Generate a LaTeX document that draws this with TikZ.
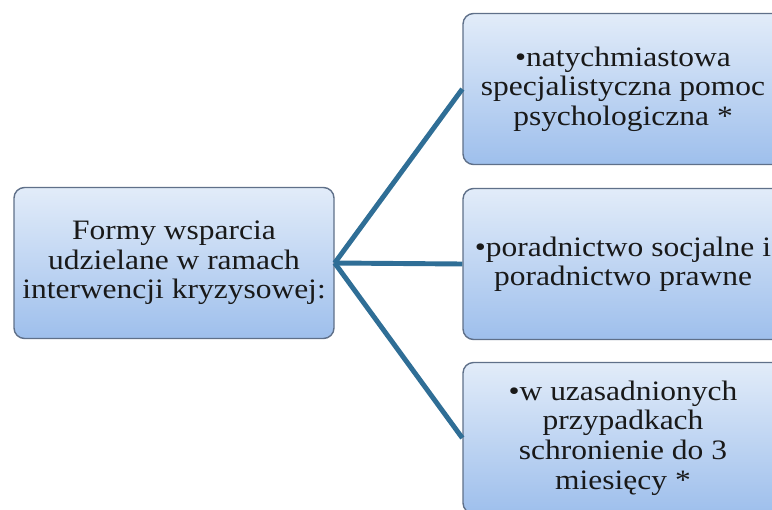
\documentclass[tikz,border=0pt]{standalone}
\usepackage{fontspec}
\setmainfont{Liberation Serif}[FakeStretch=1.12]
\usetikzlibrary{positioning}

\definecolor{linkblue}{HTML}{2F6E96}
\definecolor{boxtop}{HTML}{E2ECF9}
\definecolor{boxbottom}{HTML}{9EBFEC}
\definecolor{boxline}{HTML}{5F7089}

\begin{document}
\begin{tikzpicture}[
		every edge/.style = {draw=linkblue, line width=2.8pt},
		box/.style = {%
		rectangle, rounded corners=6pt, draw=boxline, thick,
		top color=boxtop, bottom color=boxbottom,
		minimum width=6.4cm, minimum height=3.02cm,
		align=center, text=black!90,
		font=\fontsize{16}{16.8}\selectfont}
                    ]
		\useasboundingbox (0,0) rectangle (15.44,10.18);
		\clip (0,0) rectangle (15.44,10.18);

		\node(A) [box] at (3.48, 4.92) {Formy wsparcia\\udzielane w ramach\\interwencji kryzysowej:};
		\node(B) [box] at (12.46, 8.40) {\textbullet natychmiastowa\\specjalistyczna pomoc\\psychologiczna *};
		\node(C) [box] at (12.46, 4.90) {\textbullet poradnictwo socjalne i\\poradnictwo prawne};
		\node(D) [box] at (12.46, 1.42) {\textbullet w uzasadnionych\\przypadkach\\schronienie do 3\\miesięcy *};

		\path   (A.east) edge (B.west)
  	 	     	(A.east) edge (C.west)
   			    (A.east) edge (D.west);
	\end{tikzpicture}
\end{document}
